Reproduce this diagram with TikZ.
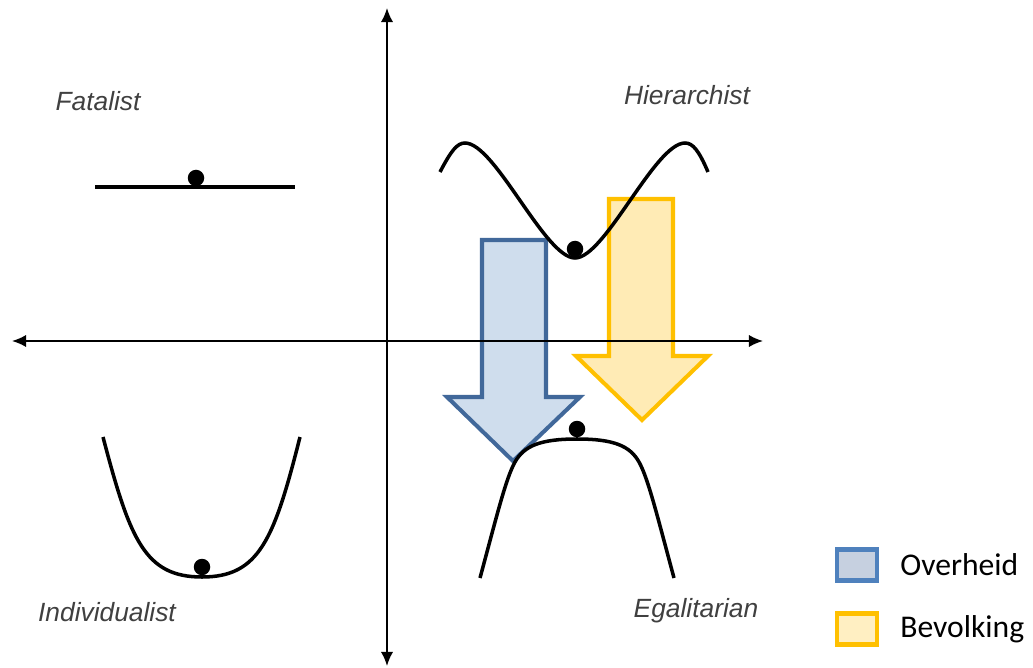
\documentclass[tikz,border=0pt]{standalone}
\usepackage{fontspec}
\setmainfont{Liberation Sans}
\newfontfamily\legendafont{Carlito}
\usetikzlibrary{arrows.meta,positioning}
\definecolor{ovlijn}{HTML}{41689A}
\definecolor{ovvul}{HTML}{CFDDED}
\definecolor{bevlijn}{HTML}{FFC000}
\definecolor{bevvul}{HTML}{FFEBB5}
\definecolor{legovlijn}{HTML}{4F81BD}
\definecolor{legovvul}{HTML}{C6D0E0}
\definecolor{legbevvul}{HTML}{FFEFC2}
\definecolor{labelgrijs}{HTML}{404040}
\tikzset{>={Latex[length=8pt,width=7pt]}}
\tikzset{
  as/.style={<->, line width=1.1pt},
  landschap/.style={line width=2pt},
  bal/.style={circle, fill=black, inner sep=0pt, minimum size=0.33cm},
  cultuur/.style={font=\itshape\fontsize{15}{18}\selectfont, text=labelgrijs},
  ovpijl/.style={draw=ovlijn, fill=ovvul, line width=2.3pt},
  bevpijl/.style={draw=bevlijn, fill=bevvul, line width=2.3pt},
  legvak/.style={line width=2.3pt, minimum width=0.8cm, minimum height=0.62cm, inner sep=0pt},
  legtekst/.style={font=\legendafont\fontsize{18}{21}\selectfont, inner sep=0pt, anchor=west},
}

\begin{document}
\begin{tikzpicture}[x=0.02cm, y=-0.02cm]
  \useasboundingbox (0,0) rectangle (1033,668);
  % arrows for the shift
  \draw[ovpijl] (482,240) -- (546,240) -- (546,397) -- (580,397) -- (513,461)
    -- (447,397) -- (482,397) -- cycle;
  \draw[bevpijl] (609,199) -- (673,199) -- (673,356) -- (708,356) -- (642,420)
    -- (576,356) -- (609,356) -- cycle;
  % axes
  \coordinate (links) at (12,341);
  \coordinate (rechts) at (763,341);
  \coordinate (boven) at (387,8);
  \coordinate (onder) at (387,666);
  \draw[as] (links) -- (rechts);
  \draw[as] (onder) -- (boven);
  % fatalist
  \node[cultuur] (fat) at (98,101) {Fatalist};
  \draw[landschap] (95,187) -- (295,187);
  \node[bal] (fatbal) at (196,178) {};
  % hierarchist
  \node[cultuur] (hier) at (687,95) {Hierarchist};
  \draw[landschap] (440,172) .. controls (451,151) and (457,143) .. (465,143)
    .. controls (495,143) and (545,258) .. (575,258)
    .. controls (605,258) and (655,143) .. (685,143)
    .. controls (693,143) and (699,151) .. (708,172);
  \node[bal] (hierbal) at (575,249) {};
  % individualist
  \node[cultuur] (ind) at (107,612) {Individualist};
  \draw[landschap] (103,437) .. controls (130,540) and (145,577) .. (202,577)
    .. controls (259,577) and (274,540) .. (300,437);
  \node[bal] (indbal) at (202,567) {};
  % egalitarian
  \node[cultuur] (ega) at (696,611) {Egalitarian};
  \draw[landschap] (480,578) .. controls (497,515) and (506,478) .. (515,462)
    .. controls (524,446) and (540,439) .. (577,439)
    .. controls (614,439) and (630,446) .. (639,462)
    .. controls (648,478) and (657,515) .. (674,578);
  \node[bal] (egabal) at (577,429) {};
  % legend
  \node[legvak, draw=legovlijn, fill=legovvul] (legov) at (857,565) {};
  \node[legvak, draw=bevlijn, fill=legbevvul] (legbev) at (857,629) {};
  \node[legtekst, right=0.42cm of legov] (legovtekst) {Overheid};
  \node[legtekst, right=0.42cm of legbev] (legbevtekst) {Bevolking};
\end{tikzpicture}
\end{document}
